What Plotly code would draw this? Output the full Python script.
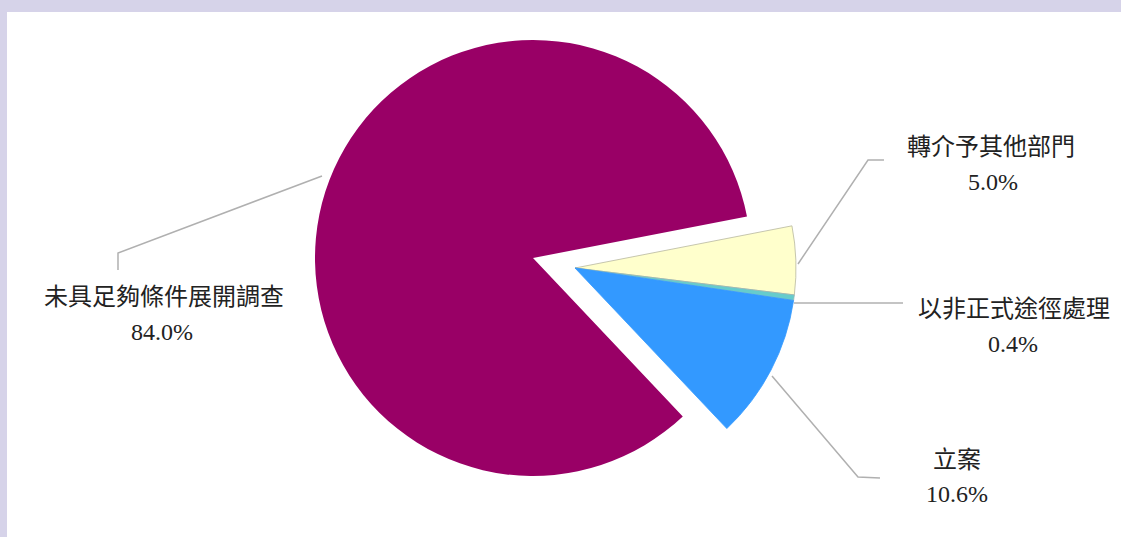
import plotly.graph_objects as go

# ---- data ----
categories = ["轉介予其他部門", "以非正式途徑處理", "立案", "未具足夠條件展開調查"]
values = [5.0, 0.4, 10.6, 84.0]
colors = ["#FFFFCC", "#66CCCC", "#3399FF", "#990066"]

W, H = 1121, 537
CLEAR = "rgba(0,0,0,0)"


def px(x, y):
    return x / W, 1 - y / H


def domain(cx, cy, r):
    return dict(x=[(cx - r) / W, (cx + r) / W], y=[1 - (cy + r) / H, 1 - (cy - r) / H])


ROT = 79
fig = go.Figure()

# big slice (not exploded)
fig.add_trace(go.Pie(
    labels=categories, values=values, sort=False, direction="clockwise", rotation=ROT,
    marker=dict(colors=[CLEAR, CLEAR, CLEAR, colors[3]],
                line=dict(color=[CLEAR, CLEAR, CLEAR, colors[3]], width=0)),
    textinfo="none", hoverinfo="label+percent", showlegend=False,
    domain=domain(533, 258, 218),
))
# small slices exploded as a group
fig.add_trace(go.Pie(
    labels=categories, values=values, sort=False, direction="clockwise", rotation=ROT,
    marker=dict(colors=[colors[0], colors[1], colors[2], CLEAR],
                line=dict(color=["#B8B8A0", "#9AB8B8", colors[2], CLEAR], width=0.8)),
    textinfo="none", hoverinfo="label+percent", showlegend=False,
    domain=domain(575, 268, 221),
))

# background: lavender frame with white panel
shapes = [dict(type="rect", xref="paper", yref="paper", x0=7 / W, x1=1, y0=0, y1=1 - 12 / H,
               fillcolor="white", line=dict(width=0), layer="below")]

# leader lines (pixel positions)
leaders = [
    [(798, 264), (868, 160), (884, 160)],
    [(794, 303), (903, 303)],
    [(772, 376), (858, 477), (880, 478)],
    [(322, 176), (118, 253), (118, 270)],
]
for pts in leaders:
    p = [px(*q) for q in pts]
    path = "M " + " L ".join(f"{a:.5f},{b:.5f}" for a, b in p)
    shapes.append(dict(type="path", xref="paper", yref="paper", path=path,
                       line=dict(color="#B0B0B0", width=1.5)))

# label positions (pixel centres of name line and percent line)
label_pos = [((991, 147), (993, 182)),
             ((1014, 309), (1013, 344)),
             ((957, 460), (957, 494)),
             ((164, 297), (162, 332))]
font = dict(family="'Liberation Serif', 'Times New Roman', 'Noto Sans CJK TC', serif", size=24, color="#222222")
annotations = []
for name, v, (p1, p2) in zip(categories, values, label_pos):
    x1, y1 = px(*p1)
    x2, y2 = px(*p2)
    annotations.append(dict(text=name, x=x1, y=y1, xref="paper", yref="paper",
                            showarrow=False, font=font, xanchor="center", yanchor="middle"))
    annotations.append(dict(text=f"{v:.1f}%", x=x2, y=y2, xref="paper", yref="paper",
                            showarrow=False, font=font, xanchor="center", yanchor="middle"))

fig.update_layout(
    width=W, height=H, margin=dict(l=0, r=0, t=0, b=0),
    paper_bgcolor="#D6D3E9", shapes=shapes, annotations=annotations,
)
fig.write_html("out.html", config={"displayModeBar": False},
               post_script="document.body.style.margin='0';document.body.style.overflow='hidden';")
